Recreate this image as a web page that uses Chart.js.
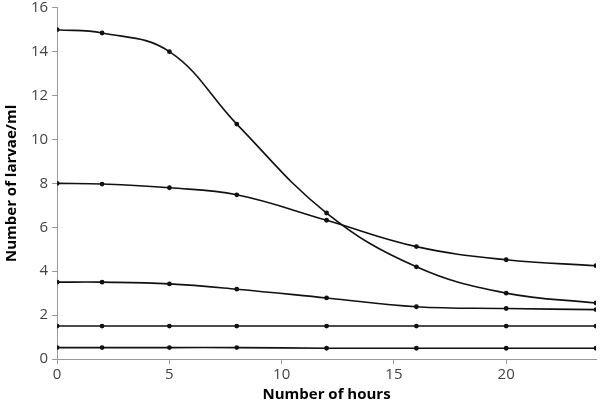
<!DOCTYPE html>
<html lang="en">
<head>
    <meta charset="UTF-8">
    <title>Larvae over time</title>
    <script src="https://cdn.jsdelivr.net/npm/chart.js"></script>
    <style>
        body { margin: 0; background: #fff; }
        .master { width: 600px; height: 400px; }
    </style>
</head>
<body>
    <div class="master">
        <canvas id="myChart"></canvas>
    </div>

    <script>
        // hours at which samples were taken
        const hours = [0, 2, 5, 8, 12, 16, 20, 24];

        // larvae/ml for each series
        const series1 = [15.0, 14.85, 14.0, 10.7, 6.65, 4.2, 3.0, 2.55];
        const series2 = [8.0, 7.97, 7.8, 7.48, 6.32, 5.12, 4.52, 4.25];
        const series3 = [3.5, 3.5, 3.42, 3.18, 2.78, 2.38, 2.3, 2.25];
        const series4 = [1.5, 1.5, 1.5, 1.5, 1.5, 1.5, 1.5, 1.5];
        const series5 = [0.52, 0.52, 0.52, 0.52, 0.49, 0.49, 0.49, 0.49];

        const xTicks = [0, 5, 10, 15, 20];

        function toPoints(values) {
            return hours.map((h, i) => ({ x: h, y: values[i] }));
        }

        function makeSet(values) {
            return {
                data: toPoints(values),
                borderColor: '#111',
                backgroundColor: '#111',
                borderWidth: 1.6,
                pointRadius: 2.4,
                pointBorderWidth: 0,
                tension: 0.4,
                fill: false,
            };
        }

        const font = { family: "'Open Sans', 'Liberation Sans', sans-serif", size: 15 };
        const yFont = { family: font.family, size: 15, lineHeight: 0.5 };

        const ctx = document.getElementById('myChart').getContext('2d');
        const myChart = new Chart(ctx, {
            type: 'line',
            data: {
                datasets: [series1, series2, series3, series4, series5].map(makeSet),
            },
            options: {
                responsive: true,
                maintainAspectRatio: false,
                animation: false,
                layout: { padding: { left: 3, right: 3, top: 0, bottom: -4 } },
                plugins: {
                    legend: { display: false },
                    tooltip: { enabled: false },
                },
                scales: {
                    x: {
                        type: 'linear',
                        min: 0,
                        max: 24,
                        afterBuildTicks: s => { s.ticks = xTicks.map(v => ({ value: v })); },
                        grid: { drawOnChartArea: false, drawTicks: true, tickLength: 5, color: '#999' },
                        border: { color: '#999' },
                        ticks: { color: '#444', font: font, padding: 2 },
                        title: {
                            display: true,
                            text: 'Number of hours',
                            color: '#000',
                            font: { family: font.family, size: 15, weight: 'bold' },
                            padding: { top: 0, bottom: 0 },
                        },
                    },
                    y: {
                        min: 0,
                        max: 16,
                        ticks: { stepSize: 2, color: '#444', font: yFont, padding: 4 },
                        grid: { drawOnChartArea: false, drawTicks: true, tickLength: 5, color: '#999' },
                        border: { color: '#999' },
                        title: {
                            display: true,
                            text: 'Number of larvae/ml',
                            color: '#000',
                            font: { family: font.family, size: 15, weight: 'bold' },
                            padding: { top: 0, bottom: 6 },
                        },
                    },
                },
            },
        });
    </script>
</body>
</html>
